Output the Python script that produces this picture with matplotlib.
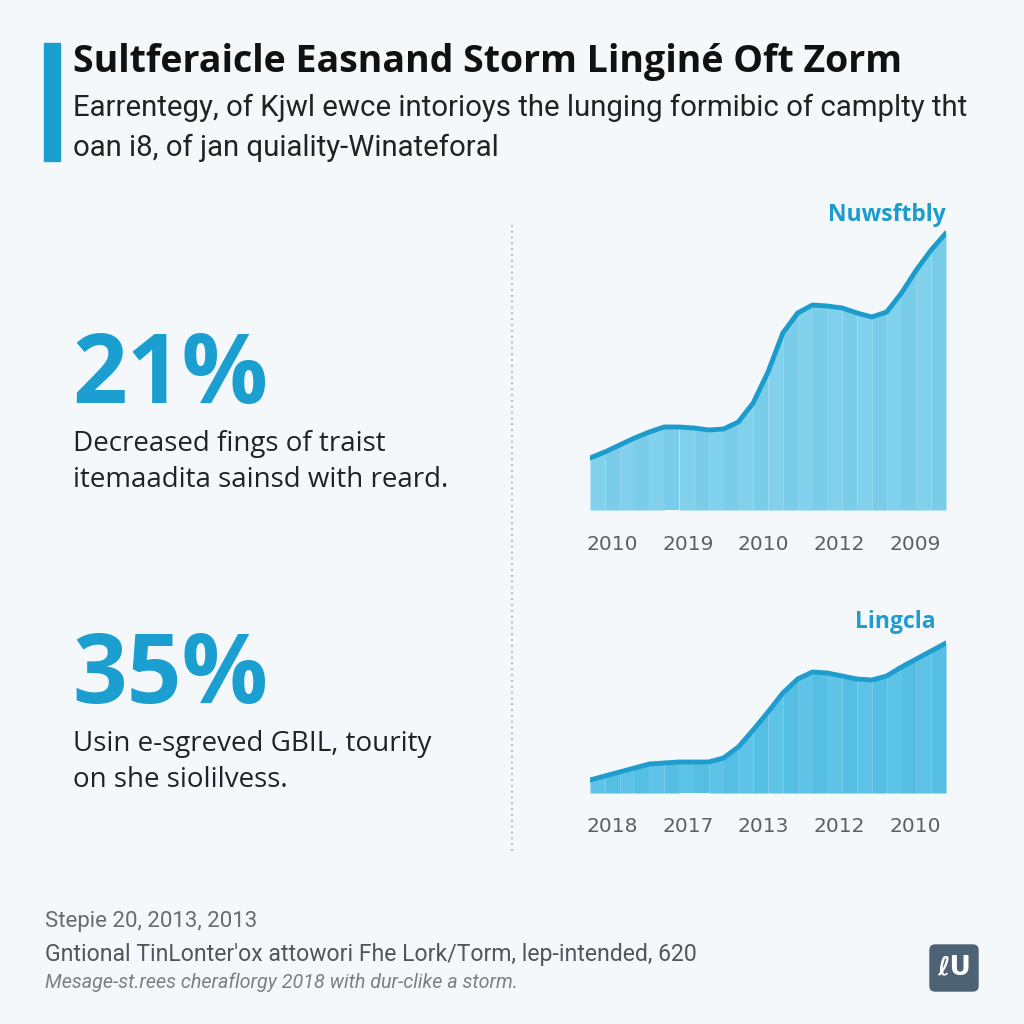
"""
Two stat blocks with small area charts, infographic style
"""
import matplotlib
matplotlib.use("Agg")
import matplotlib.pyplot as plt
from matplotlib.patches import Rectangle, FancyBboxPatch
from matplotlib.lines import Line2D

# Data
top_values = [52, 58, 65, 72, 78, 83, 83, 82, 80, 81, 88, 107, 138,
              177, 197, 205, 204, 202, 197, 193, 198, 217, 240, 260, 277]
top_years = ["2010", "2019", "2010", "2012", "2009"]
top_label = "Nuwsftbly"

bottom_values = [13, 17, 21, 25, 29, 30, 31, 31, 31, 35, 46, 63, 81,
                 100, 114, 121, 120, 117, 114, 113, 117, 126, 134, 142, 150]
bottom_years = ["2018", "2017", "2013", "2012", "2010"]
bottom_label = "Lingcla"

stats = ["21%", "35%"]
stat_lines = [
    ["Decreased fings of traist", "itemaadita sainsd with reard."],
    ["Usin e-sgreved GBIL, tourity", "on she siolilvess."],
]

title = "Sultferaicle Easnand Storm Linginé Oft Zorm"
subtitle = [
    "Earrentegy, of Kjwl ewce intorioys the lunging formibic of camplty tht",
    "oan i8, of jan quiality-Winateforal",
]
footer = [
    "Stepie 20, 2013, 2013",
    "Gntional TinLonter'ox attowori Fhe Lork/Torm, lep-intended, 620",
    "Mesage-st.rees cheraflorgy 2018 with dur-clike a storm.",
]

BG = "#f4f8fb"
BLUE = "#1a9fd0"
W = H = 1024


def fy(py):
    """pixel row -> figure fraction"""
    return 1 - py / H


def fx(px):
    return px / W


def area_chart(fig, values, years, top_px, base_px, ymax, fills, line_color, tick_px):
    left, right = 590, 946
    ax = fig.add_axes([fx(left), fy(base_px), (right - left) / W, (base_px - top_px) / H])
    ax.set_facecolor("none")
    x = list(range(len(values)))
    for i in range(len(values) - 1):
        ax.fill_between(x[i:i + 2], values[i:i + 2], 0, color=fills[i % 2], lw=0)
    ax.plot(x, values, color=line_color, lw=3.5, solid_capstyle="round", solid_joinstyle="round")
    ax.set_xlim(0, len(values) - 1)
    ax.set_ylim(0, ymax)
    ax.axis("off")
    # year labels under the chart
    for k, yr in enumerate(years):
        fig.text(fx(612 + k * 75.8), fy(tick_px), yr, ha="center", va="center",
                 fontsize=14.5, color="#5a6066", family="DejaVu Sans")
    return ax


def main():
    fig = plt.figure(figsize=(W / 100, H / 100), dpi=100, facecolor=BG)

    # accent bar
    fig.patches.append(Rectangle((fx(44), fy(161)), 16 / W, 118 / H,
                                 transform=fig.transFigure, color=BLUE))

    fig.text(fx(73), fy(62), title, fontsize=27, fontweight="bold",
             family="Open Sans", color="#111111", va="center")
    fig.text(fx(73), fy(108), subtitle[0], fontsize=21.2, family="Roboto",
             color="#222222", va="center")
    fig.text(fx(73), fy(148), subtitle[1], fontsize=21.2, family="Roboto",
             color="#222222", va="center")

    # stat blocks
    for stat, lines, py in zip(stats, stat_lines, [377, 677]):
        fig.text(fx(72), fy(py), stat, fontsize=69, fontweight="bold",
                 family="Open Sans", color=BLUE, va="center")
        for j, line in enumerate(lines):
            fig.text(fx(73), fy(py + 67 + j * 36), line, fontsize=20,
                     family="Open Sans", color="#1d2328", va="center")

    # divider
    fig.lines.append(Line2D([fx(512), fx(512)], [fy(225), fy(855)],
                            transform=fig.transFigure, color="#9aa6ae",
                            lw=1.2, ls=(0, (1, 2.5))))

    area_chart(fig, top_values, top_years, 210, 510, 300,
               ["#82d1ec", "#79cde9"], "#1b9ccc", 545)
    area_chart(fig, bottom_values, bottom_years, 630, 793, 163,
               ["#5ec3e6", "#55bee3"], "#1e9dce", 826)
    fig.text(fx(946), fy(215), top_label, fontsize=16.5, fontweight="bold",
             family="Open Sans", color="#1b9ccc", ha="right", va="center")
    fig.text(fx(936), fy(622), bottom_label, fontsize=16.5, fontweight="bold",
             family="Open Sans", color="#1e9dce", ha="right", va="center")

    # footer
    fig.text(fx(45), fy(922), footer[0], fontsize=16, family="Roboto",
             color="#666c72", va="center")
    fig.text(fx(45), fy(954), footer[1], fontsize=16.6, family="Roboto",
             color="#50565c", va="center")
    fig.text(fx(45), fy(982), footer[2], fontsize=14.2, family="Roboto",
             style="italic", color="#7a8086", va="center")

    # logo badge
    fig.patches.append(FancyBboxPatch((fx(930), fy(991)), 48 / W, 46 / H,
                                      boxstyle="round,pad=0,rounding_size=0.005",
                                      transform=fig.transFigure,
                                      color="#4d6275"))
    fig.text(fx(954), fy(967), "ℓU", fontsize=19, fontweight="bold",
             family=["DejaVu Sans"], color="white", ha="center", va="center")

    fig.savefig("out.png", dpi=100, facecolor=BG)


if __name__ == "__main__":
    main()
